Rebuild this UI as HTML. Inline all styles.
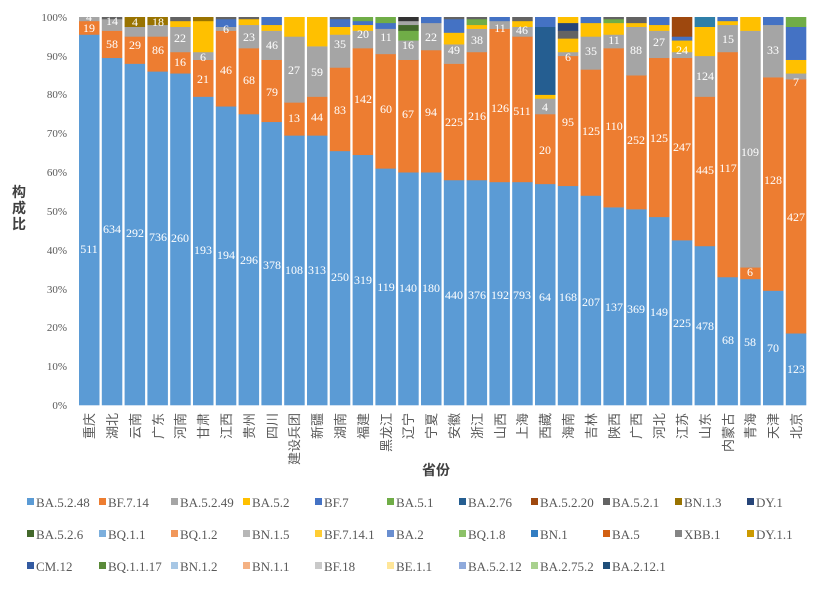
<!DOCTYPE html>
<html><head><meta charset="utf-8"><style>
body{margin:0;background:#fff;}
svg{display:block;font-family:"Liberation Serif","Noto Serif CJK SC",serif;}
.l{fill:#fff;font-size:12px;text-anchor:middle;}
.ya{fill:#595959;font-size:11px;text-anchor:end;}
.xa{fill:#595959;font-size:13px;font-family:"Liberation Sans","Noto Sans CJK SC",sans-serif;}
.lg{fill:#595959;font-size:13px;}
</style></head><body>
<svg id="s" width="825" height="589" viewBox="0 0 825 589">
<g id="bars"></g>
<g class="ya">
<text x="67" y="409">0%</text><text x="67" y="370">10%</text><text x="67" y="331">20%</text><text x="67" y="293">30%</text><text x="67" y="254">40%</text><text x="67" y="215">50%</text><text x="67" y="176">60%</text><text x="67" y="137">70%</text><text x="67" y="098">80%</text><text x="67" y="060">90%</text><text x="67" y="021">100%</text>
</g>
<g font-family="Liberation Sans,Noto Sans CJK SC,sans-serif" font-size="14" font-weight="bold" fill="#404040" text-anchor="middle">
<text x="19" y="197">构</text><text x="19" y="213">成</text><text x="19" y="229">比</text>
<text x="436" y="475">省份</text>
</g>
<g class="xa" id="xl"></g>
<g class="l">
<text x="89" y="253">511</text><text x="89" y="32">19</text><text x="89" y="21">4</text>
<text x="112" y="233">634</text><text x="112" y="48">58</text><text x="112" y="25">14</text>
<text x="135" y="237">292</text><text x="135" y="49">29</text><text x="135" y="26">4</text>
<text x="158" y="241">736</text><text x="158" y="54">86</text><text x="158" y="26">18</text>
<text x="180" y="242">260</text><text x="180" y="66">16</text><text x="180" y="42">22</text>
<text x="203" y="254">193</text><text x="203" y="83">21</text><text x="203" y="61">6</text>
<text x="226" y="259">194</text><text x="226" y="74">46</text><text x="226" y="33">6</text>
<text x="249" y="264">296</text><text x="249" y="84">68</text><text x="249" y="41">23</text>
<text x="272" y="269">378</text><text x="272" y="96">79</text><text x="272" y="49">46</text>
<text x="294" y="274">108</text><text x="294" y="122">13</text><text x="294" y="74">27</text>
<text x="317" y="274">313</text><text x="317" y="121">44</text><text x="317" y="76">59</text>
<text x="340" y="281">250</text><text x="340" y="114">83</text><text x="340" y="48">35</text>
<text x="363" y="284">319</text><text x="363" y="103">142</text><text x="363" y="38">20</text>
<text x="386" y="291">119</text><text x="386" y="113">60</text><text x="386" y="41">11</text>
<text x="408" y="292">140</text><text x="408" y="118">67</text><text x="408" y="49">16</text>
<text x="431" y="292">180</text><text x="431" y="116">94</text><text x="431" y="41">22</text>
<text x="454" y="299">440</text><text x="454" y="126">225</text><text x="454" y="54">49</text>
<text x="477" y="299">376</text><text x="477" y="120">216</text><text x="477" y="44">38</text>
<text x="500" y="299">192</text><text x="500" y="112">126</text><text x="500" y="32">11</text>
<text x="522" y="299">793</text><text x="522" y="115">511</text><text x="522" y="34">46</text>
<text x="545" y="301">64</text><text x="545" y="154">20</text><text x="545" y="111">4</text>
<text x="568" y="301">168</text><text x="568" y="126">95</text><text x="568" y="61">6</text>
<text x="591" y="306">207</text><text x="591" y="135">125</text><text x="591" y="55">35</text>
<text x="614" y="311">137</text><text x="614" y="130">110</text><text x="614" y="44">11</text>
<text x="636" y="313">369</text><text x="636" y="144">252</text><text x="636" y="54">88</text>
<text x="659" y="316">149</text><text x="659" y="142">125</text><text x="659" y="46">27</text>
<text x="682" y="327">225</text><text x="682" y="151">247</text><text x="682" y="54">24</text>
<text x="705" y="330">478</text><text x="705" y="174">445</text><text x="705" y="80">124</text>
<text x="728" y="344">68</text><text x="728" y="172">117</text><text x="728" y="43">15</text>
<text x="750" y="346">58</text><text x="750" y="276">6</text><text x="750" y="156">109</text>
<text x="773" y="352">70</text><text x="773" y="184">128</text><text x="773" y="54">33</text>
<text x="796" y="373">123</text><text x="796" y="221">427</text><text x="796" y="86">7</text>
</g>
<g class="lg" id="lg">
<text x="36" y="507">BA.5.2.48</text><text x="108" y="507">BF.7.14</text><text x="180" y="507">BA.5.2.49</text><text x="252" y="507">BA.5.2</text><text x="324" y="507">BF.7</text><text x="396" y="507">BA.5.1</text><text x="468" y="507">BA.2.76</text><text x="540" y="507">BA.5.2.20</text><text x="612" y="507">BA.5.2.1</text><text x="684" y="507">BN.1.3</text><text x="756" y="507">DY.1</text>
<text x="36" y="539">BA.5.2.6</text><text x="108" y="539">BQ.1.1</text><text x="180" y="539">BQ.1.2</text><text x="252" y="539">BN.1.5</text><text x="324" y="539">BF.7.14.1</text><text x="396" y="539">BA.2</text><text x="468" y="539">BQ.1.8</text><text x="540" y="539">BN.1</text><text x="612" y="539">BA.5</text><text x="684" y="539">XBB.1</text><text x="756" y="539">DY.1.1</text>
<text x="36" y="571">CM.12</text><text x="108" y="571">BQ.1.1.17</text><text x="180" y="571">BN.1.2</text><text x="252" y="571">BN.1.1</text><text x="324" y="571">BF.18</text><text x="396" y="571">BE.1.1</text><text x="468" y="571">BA.5.2.12</text><text x="540" y="571">BA.2.75.2</text><text x="612" y="571">BA.2.12.1</text>
</g>
<g id="lm"></g>
<g class="xa" text-anchor="end">
<text transform="translate(94,413) rotate(-90)">重庆</text>
<text transform="translate(117,413) rotate(-90)">湖北</text>
<text transform="translate(140,413) rotate(-90)">云南</text>
<text transform="translate(163,413) rotate(-90)">广东</text>
<text transform="translate(185,413) rotate(-90)">河南</text>
<text transform="translate(208,413) rotate(-90)">甘肃</text>
<text transform="translate(231,413) rotate(-90)">江西</text>
<text transform="translate(254,413) rotate(-90)">贵州</text>
<text transform="translate(277,413) rotate(-90)">四川</text>
<text transform="translate(299,413) rotate(-90)">建设兵团</text>
<text transform="translate(322,413) rotate(-90)">新疆</text>
<text transform="translate(345,413) rotate(-90)">湖南</text>
<text transform="translate(368,413) rotate(-90)">福建</text>
<text transform="translate(391,413) rotate(-90)">黑龙江</text>
<text transform="translate(413,413) rotate(-90)">辽宁</text>
<text transform="translate(436,413) rotate(-90)">宁夏</text>
<text transform="translate(459,413) rotate(-90)">安徽</text>
<text transform="translate(482,413) rotate(-90)">浙江</text>
<text transform="translate(505,413) rotate(-90)">山西</text>
<text transform="translate(527,413) rotate(-90)">上海</text>
<text transform="translate(550,413) rotate(-90)">西藏</text>
<text transform="translate(573,413) rotate(-90)">海南</text>
<text transform="translate(596,413) rotate(-90)">吉林</text>
<text transform="translate(619,413) rotate(-90)">陕西</text>
<text transform="translate(641,413) rotate(-90)">广西</text>
<text transform="translate(664,413) rotate(-90)">河北</text>
<text transform="translate(687,413) rotate(-90)">江苏</text>
<text transform="translate(710,413) rotate(-90)">山东</text>
<text transform="translate(733,413) rotate(-90)">内蒙古</text>
<text transform="translate(755,413) rotate(-90)">青海</text>
<text transform="translate(778,413) rotate(-90)">天津</text>
<text transform="translate(801,413) rotate(-90)">北京</text>
</g>
</svg>
<script>
var C={b:"#5B9BD5",o:"#ED7D31",g:"#A5A5A5",y:"#FFC000",f:"#4472C4",e:"#70AD47",d:"#255E91",r:"#9E480E",k:"#636363",v:"#997300",n:"#264478",h:"#43682B",t:"#2F7FA8",x:"#333"};
var D=[
"b95.5 o99 g100","b89.5 o96.5 g99.5 k100","b88 o95 g97.5 v100","b86 o95 g98 v100","b85.5 o91 g97.5 y99 k100",
"b79.5 o89 g91 y99 v100","b77 o96.5 g97.5 f99.5 k100","b75 o92 g98 y99.5 k100","b73 o89 g96.5 y98 f100","b69.5 o78 g95 y100",
"b69.5 o79.5 g92.5 y100","b65.5 o87 g95.5 y97.5 f99.5 k100","b64.5 o92 g96.5 y98 f99 e100","b61 o90.5 g97 f98.5 e100","b60 o89 g94 e96.5 h98 g99 x100",
"b60 o91.5 g98.5 f100","b58 o88 g93 y96 f99.5 k100","b58 o91 g97 y98 e99.5 k100","b57.5 o97 g99 f100","b57.5 o95 g97.5 y99 k100",
"b57 o75 g79 y80 d97.5 f100","b56.5 o90 g91 y94.5 k96.5 n98.5 y100","b54 o86.5 g95 y98.5 f100","b51 o92 g95.5 y98.5 e99.5 k100","b50.5 o85 g97.5 y98.5 k100",
"b48.5 o89.5 g96.5 y98 f100","b42.5 o89.5 g91 y94 f95 r100","b41 o79.5 g90 y97.5 t100","b33 o91 g98 y99 f100","b32.5 o35.5 g96.5 y100",
"b29.5 o84.5 g98 f100","b18.5 o84 g85.5 y89 f97.5 e100"];
var NS="http://www.w3.org/2000/svg",g=document.getElementById("bars");
function el(p,t,a){var e=document.createElementNS(NS,t);for(var k in a)e.setAttribute(k,a[k]);p.appendChild(e);return e;}
D.forEach(function(s,i){var x=79+i*22.8,prev=0;s.split(" ").forEach(function(q){var c=C[q[0]],v=parseFloat(q.slice(1));
el(g,"rect",{x:x,y:405-v*3.88,width:20.5,height:(v-prev)*3.88+0.3,fill:c});prev=v;});});
var cols=["#5B9BD5","#ED7D31","#A5A5A5","#FFC000","#4472C4","#70AD47","#255E91","#9E480E","#636363","#997300","#264478",
"#43682B","#7CAFDD","#F1975A","#B7B7B7","#FFCD33","#698ED0","#8CC168","#327DC2","#D26012","#848484","#CC9A00",
"#335AA1","#5A8A39","#A7C7E5","#F4B183","#C9C9C9","#FFE699","#8FAADC","#A9D18E","#1F4E79"];
var lm=document.getElementById("lm");
cols.forEach(function(c,i){var r=Math.floor(i/11),k=i%11;el(lm,"rect",{x:27+k*72,y:498+r*32,width:7,height:7,fill:c});});
</script>
</body></html>
